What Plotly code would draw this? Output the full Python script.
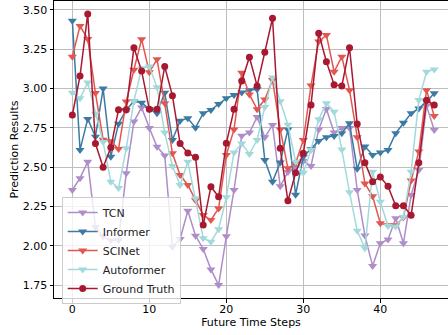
import plotly.graph_objects as go

steps = list(range(48))

tcn = [2.355, 2.43, 2.535, 2.12, 2.06, 2.036, 2.036, 2.461, 2.79, 2.88,
       2.75, 2.63, 2.575, 1.994, 2.043, 2.223, 2.064, 1.98, 1.85, 1.75,
       2.06, 2.355, 2.70, 2.72, 2.82, 2.69, 2.768, 2.378, 2.47, 2.50,
       2.54, 2.508, 2.74, 2.87, 2.72, 2.75, 2.75, 2.355, 2.065, 1.872,
       2.016, 2.04, 2.175, 2.016, 2.323, 2.482, 2.89, 2.737]

informer = [3.432, 2.61, 2.807, 2.694, 3.00, 2.567, 2.777, 2.864, 2.92, 2.91,
            2.87, 2.843, 2.974, 2.673, 2.796, 2.811, 2.751, 2.843, 2.864, 2.902,
            2.938, 2.959, 2.975, 2.99, 2.995, 2.546, 2.408, 2.53, 2.74, 2.325,
            2.567, 2.614, 2.667, 2.69, 2.698, 2.716, 2.779, 2.49, 2.632, 2.578,
            2.593, 2.61, 2.716, 2.783, 2.843, 2.874, 2.917, 2.97]

scinet = [3.203, 3.398, 3.316, 2.972, 2.675, 2.665, 2.615, 2.917, 3.12, 3.313,
          3.104, 3.186, 2.906, 2.588, 2.45, 2.387, 2.29, 2.196, 2.164, 2.238,
          2.578, 2.74, 3.10, 2.963, 2.868, 2.93, 3.055, 2.74, 2.493, 2.525,
          2.673, 3.02, 3.30, 3.34, 3.107, 3.203, 2.99, 2.69, 2.397, 2.315,
          2.143, 2.13, 2.13, 2.18, 2.415, 2.60, 2.99, 2.826]

autoformer = [2.974, 2.938, 3.038, 2.84, 2.66, 2.408, 2.367, 2.62, 2.92, 3.13,
              3.14, 3.008, 2.72, 2.508, 2.387, 2.535, 2.302, 2.048, 2.026, 2.105,
              2.309, 2.593, 2.65, 2.584, 2.673, 2.883, 3.07, 2.92, 2.77, 2.535,
              2.465, 2.61, 2.805, 2.906, 2.853, 2.612, 2.34, 2.095, 1.984, 2.471,
              2.28, 2.126, 2.122, 2.185, 2.471, 2.927, 3.107, 3.122]

ground_truth = [2.832, 3.08, 3.475, 2.65, 2.50, 2.625, 2.866, 2.866, 3.26, 3.112,
                2.868, 2.868, 3.14, 2.955, 2.65, 2.59, 2.563, 2.132, 2.376, 2.312,
                2.652, 2.868, 3.048, 3.199, 3.017, 3.231, 3.447, 2.62, 2.286, 2.465,
                2.588, 2.896, 3.352, 3.171, 3.025, 3.017, 3.26, 2.774, 2.529, 2.408,
                2.438, 2.378, 2.254, 2.254, 2.194, 2.529, 2.925, 2.895]

y_ticks = [1.75, 2.00, 2.25, 2.50, 2.75, 3.00, 3.25, 3.50]
x_ticks = [0, 10, 20, 30, 40]

series = [
    ("TCN", tcn, "#ae8dc9", "triangle-down"),
    ("Informer", informer, "#3c7aa3", "triangle-down"),
    ("SCINet", scinet, "#e35650", "triangle-down"),
    ("Autoformer", autoformer, "#a2dadb", "triangle-down"),
    ("Ground Truth", ground_truth, "#a81830", "circle"),
]

fig = go.Figure()
for name, vals, color, sym in series:
    fig.add_trace(go.Scatter(
        x=steps, y=vals, name=name, mode="lines+markers",
        line=dict(color=color, width=1.5),
        marker=dict(color=color, symbol=sym, size=7 if sym == "circle" else 8,
                    line=dict(width=0)),
    ))

font = "DejaVu Sans"
fig.update_layout(
    width=448, height=335,
    margin=dict(l=54, r=0, t=1, b=37),
    paper_bgcolor="white", plot_bgcolor="white",
    font=dict(family=font, size=11, color="black"),
    showlegend=True,
    legend=dict(
        x=0.0195, y=0.340, xanchor="left", yanchor="top",
        bgcolor="rgba(255,255,255,0.8)", bordercolor="#cccccc", borderwidth=1,
        font=dict(family=font, size=11, color="#222222"),
        tracegroupgap=0, itemwidth=30,
    ),
    xaxis=dict(
        range=[-2.38, 48.79], tickvals=x_ticks,
        showgrid=True, gridcolor="#bdbdbd", gridwidth=1.2,
        showline=True, linecolor="black", linewidth=1, mirror=True,
        ticks="outside", ticklen=3.5, tickwidth=0.8, tickcolor="black",
        ticklabelstandoff=-3,
        zeroline=False,
        title=dict(text="Future Time Steps", standoff=2, font=dict(size=11)),
    ),
    yaxis=dict(
        range=[1.668, 3.557], tickvals=y_ticks, tickformat=".2f",
        showgrid=True, gridcolor="#bdbdbd", gridwidth=1.2,
        showline=True, linecolor="black", linewidth=1, mirror=False,
        ticks="outside", ticklen=3.5, tickwidth=0.8, tickcolor="black",
        zeroline=False,
        title=dict(text="Prediction Results", standoff=1, font=dict(size=11)),
    ),
)

fig.write_html("out.html", config={"displayModeBar": False},
               post_script=["document.body.style.margin='0';"])
